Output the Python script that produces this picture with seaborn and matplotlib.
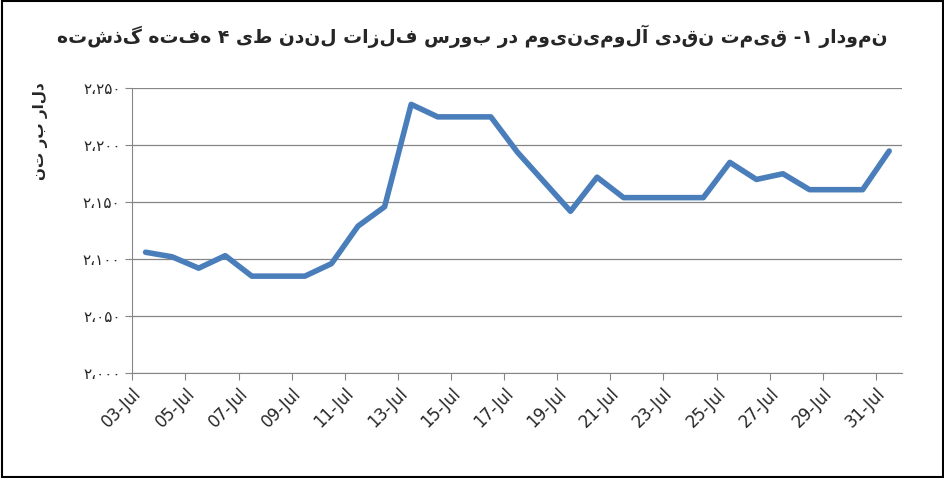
import matplotlib
matplotlib.use("Agg")
import matplotlib.pyplot as plt
import seaborn as sns
import pandas as pd

# daily spot price, 03-Jul .. 31-Jul
days = [f"{d:02d}-Jul" for d in range(3, 32)]
prices = [2106, 2102, 2092, 2103, 2085, 2085, 2085, 2096, 2129, 2146,
          2236, 2225, 2225, 2225, 2194, 2168, 2142, 2172, 2154, 2154,
          2154, 2154, 2185, 2170, 2175, 2161, 2161, 2161, 2195]
y_ticks = [2000, 2050, 2100, 2150, 2200, 2250]
title = "نمودار ۱- قیمت نقدی آلومینیوم در بورس فلزات لندن طی ۴ هفته گذشته"
y_label = "دلار بر تن"

fa_digits = str.maketrans("0123456789", "۰۱۲۳۴۵۶۷۸۹")

def fa_num(v):
    return f"{v:,}".replace(",", "،").translate(fa_digits)

def rtl(s):
    # matplotlib draws left to right, so flip for visual order
    return s[::-1]

sns.set_style("white")
plt.rcParams["font.family"] = ["DejaVu Sans"]

df = pd.DataFrame({"idx": range(len(days)), "price": prices})

fig = plt.figure(figsize=(9.45, 4.78), dpi=100)
ax = fig.add_axes([0.14, 0.22, 0.815, 0.595])
sns.lineplot(data=df, x="idx", y="price", ax=ax, color="#4a7ebb", linewidth=4)

ax.set_ylim(2000, 2250)
ax.set_yticks(y_ticks)
ax.set_yticklabels([fa_num(v) for v in y_ticks], fontsize=11)
ax.yaxis.grid(True, color="#868686", linewidth=0.9)
ax.set_xlim(-0.5, len(days) - 0.5)
ax.set_xticks([i - 0.5 for i in range(0, len(days), 2)])
ax.set_xticklabels(days[::2], rotation=45, ha="right", rotation_mode="anchor", fontsize=12)
ax.tick_params(axis="both", length=5, direction="out", color="#868686", left=True, bottom=True)
for s in ["top", "right"]:
    ax.spines[s].set_visible(False)
for s in ["left", "bottom"]:
    ax.spines[s].set_color("#868686")
ax.set_xlabel("")
ax.set_ylabel(rtl(y_label), fontsize=11, fontweight="bold", labelpad=10)
ax.yaxis.set_label_coords(-0.11, 0.85)

fig.text(0.5, 0.91, rtl(title), ha="center", fontsize=13.5, fontweight="bold")
fig.patches.append(plt.Rectangle((0.002, 0.003), 0.996, 0.994, transform=fig.transFigure,
                                 fill=False, edgecolor="black", linewidth=1.5))
fig.savefig("out.png", dpi=100)
